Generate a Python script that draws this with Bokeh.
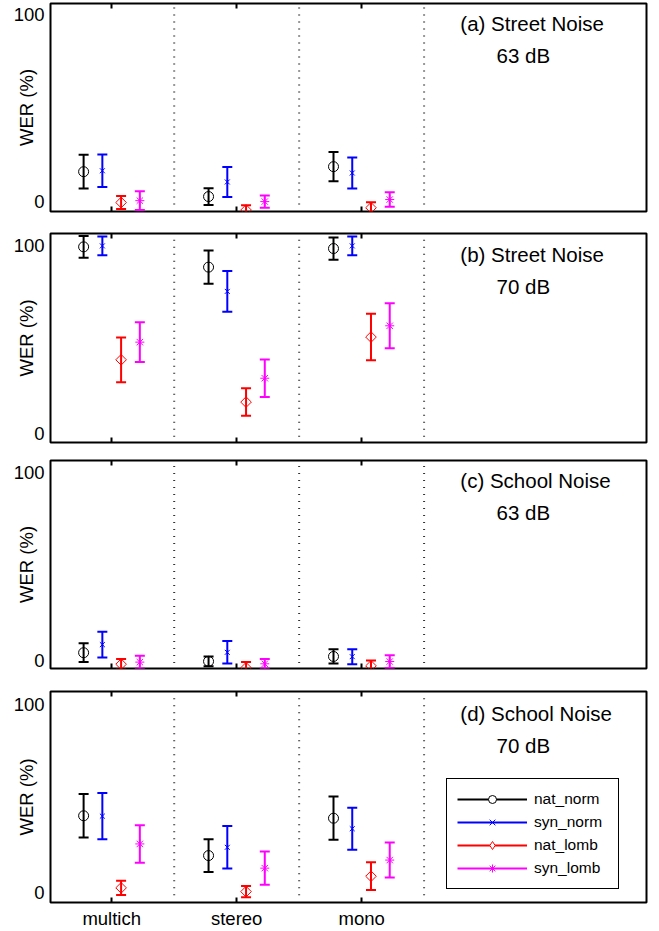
import numpy as np
from bokeh.plotting import figure
from bokeh.models import (Range1d, FixedTicker, LinearAxis, ColumnDataSource,
                          Whisker, TeeHead, Legend, LegendItem)
from bokeh.layouts import column
from bokeh.core.properties import value
from bokeh.embed import file_html
from bokeh.resources import INLINE

# ---------------- data ----------------
categories = ["multich", "stereo", "mono"]
series_names = ["nat_norm", "syn_norm", "nat_lomb", "syn_lomb"]
panel_titles = ["(a) Street Noise", "(b) Street Noise", "(c) School Noise", "(d) School Noise"]
panel_levels = ["63 dB", "70 dB", "63 dB", "70 dB"]
y_ticks = [0, 100]

# (a) Street noise 63 dB : mean WER and error half-width
a_nat_norm = [16.0, 2.7, 18.7]
a_nat_norm_err = [9.0, 4.5, 7.8]
a_syn_norm = [16.5, 10.5, 15.3]
a_syn_norm_err = [8.7, 8.0, 8.3]
a_nat_lomb = [-0.5, -4.5, -3.3]
a_nat_lomb_err = [3.5, 2.5, 3.0]
a_syn_lomb = [0.5, 0.0, 1.1]
a_syn_lomb_err = [5.0, 3.3, 3.9]

# (b) Street noise 70 dB
b_nat_norm = [99.5, 88.7, 98.6]
b_nat_norm_err = [5.8, 8.9, 5.9]
b_syn_norm = [100.0, 75.8, 100.0]
b_syn_norm_err = [5.0, 10.8, 5.0]
b_nat_lomb = [39.4, 16.9, 51.5]
b_nat_lomb_err = [11.9, 7.3, 12.4]
b_syn_lomb = [48.8, 29.6, 57.5]
b_syn_lomb_err = [10.6, 10.0, 12.0]

# (c) School noise 63 dB
c_nat_norm = [4.0, -0.6, 2.0]
c_nat_norm_err = [5.0, 2.6, 3.8]
c_syn_norm = [8.3, 4.2, 1.9]
c_syn_norm_err = [6.8, 6.0, 4.0]
c_nat_lomb = [-2.1, -4.0, -3.0]
c_nat_lomb_err = [2.8, 3.0, 2.8]
c_syn_lomb = [-1.0, -1.9, -0.7]
c_syn_lomb_err = [3.4, 2.5, 3.4]

# (d) School noise 70 dB
d_nat_norm = [40.8, 19.6, 39.5]
d_nat_norm_err = [11.6, 8.7, 11.5]
d_syn_norm = [40.6, 24.0, 33.9]
d_syn_norm_err = [12.3, 11.3, 11.2]
d_nat_lomb = [2.4, 0.4, 8.6]
d_nat_lomb_err = [3.8, 3.0, 7.4]
d_syn_lomb = [25.8, 12.9, 17.2]
d_syn_lomb_err = [10.0, 8.9, 9.3]

# ---------------- styling ----------------
FONT = "Liberation Sans"
colors = ["#000000", "#0000FF", "#FF0000", "#FF00FF"]
markers = ["circle", "x", "square", "asterisk"]
marker_sizes = [10, 7, 7.5, 9]
marker_angles = [0, 0, np.pi / 4, 0]
legend_markers = ["circle", "x", "diamond", "asterisk"]
legend_sizes = [10, 7, 13, 9]
offsets = [-0.225, -0.075, 0.075, 0.225]
separators = [1.5, 2.5, 3.5]
sep_lo, sep_hi = -1.5, 104
title_x, level_x = 3.79, 4.08
title_y, level_y = 95.3, 78.3

panels = [
    (a_nat_norm, a_nat_norm_err, a_syn_norm, a_syn_norm_err, a_nat_lomb, a_nat_lomb_err, a_syn_lomb, a_syn_lomb_err),
    (b_nat_norm, b_nat_norm_err, b_syn_norm, b_syn_norm_err, b_nat_lomb, b_nat_lomb_err, b_syn_lomb, b_syn_lomb_err),
    (c_nat_norm, c_nat_norm_err, c_syn_norm, c_syn_norm_err, c_nat_lomb, c_nat_lomb_err, c_syn_lomb, c_syn_lomb_err),
    (d_nat_norm, d_nat_norm_err, d_syn_norm, d_syn_norm_err, d_nat_lomb, d_nat_lomb_err, d_syn_lomb, d_syn_lomb_err),
]
# height, border top, border bottom, y range
geoms = [
    (222, 3, 11, -5.3, 106.0),
    (229, 11, 9, -4.6, 106.6),
    (228, 9, 11, -4.4, 106.2),
    (252, 12, 26, -5.4, 107.0),
]

xpos = np.arange(1, len(categories) + 1)
figs = []
for i, data in enumerate(panels):
    H, bt, bb, ylo, yhi = geoms[i]
    last = (i == len(panels) - 1)
    p = figure(width=651, height=H, x_range=Range1d(0.51, 5.28), y_range=Range1d(ylo, yhi),
               output_backend="svg", toolbar_location=None,
               min_border_left=50, min_border_right=5, min_border_top=bt, min_border_bottom=bb)
    p.grid.visible = False
    p.outline_line_color = "black"
    p.outline_line_width = 2
    p.outline_line_alpha = 1
    p.background_fill_color = "white"
    p.border_fill_color = "white"

    # x axis (bottom)
    xa = p.xaxis[0]
    xa.ticker = FixedTicker(ticks=list(xpos))
    xa.major_label_overrides = {int(k): c for k, c in zip(xpos, categories)}
    xa.axis_line_color = None
    xa.major_tick_in = 5
    xa.major_tick_out = 0
    xa.major_tick_line_width = 2
    xa.major_tick_line_color = "black"
    xa.minor_tick_line_color = None
    xa.major_label_text_font = FONT
    xa.major_label_text_font_size = "18.5px"
    if last:
        xa.major_label_text_color = "black"
        xa.major_label_standoff = 5
    else:
        xa.major_label_text_color = None
        xa.major_label_standoff = 0

    # top ticks
    top_ax = LinearAxis(ticker=FixedTicker(ticks=list(xpos)), axis_line_color=None,
                        major_tick_in=5, major_tick_out=0, major_tick_line_width=2,
                        major_tick_line_color="black", minor_tick_line_color=None,
                        major_label_text_color=None, major_label_standoff=0)
    p.add_layout(top_ax, "above")

    # y axis
    ya = p.yaxis[0]
    ya.ticker = FixedTicker(ticks=y_ticks)
    ya.axis_line_color = None
    ya.major_tick_in = 0
    ya.major_tick_out = 0
    ya.minor_tick_line_color = None
    ya.major_label_text_font = FONT
    ya.major_label_text_font_size = "18.5px"
    ya.major_label_text_color = "black"
    ya.major_label_standoff = 6
    ya.axis_label = "WER (%)"
    ya.axis_label_text_font = FONT
    ya.axis_label_text_font_size = "18.5px"
    ya.axis_label_text_font_style = "normal"
    ya.axis_label_text_color = "black"
    ya.axis_label_standoff = -26

    # dotted separators
    p.segment(x0=separators, y0=[sep_lo] * len(separators), x1=separators,
              y1=[sep_hi] * len(separators), line_color="#333333", line_width=2,
              line_dash="1 6")

    legend_items = []
    for k, name in enumerate(series_names):
        mean = np.array(data[2 * k], dtype=float)
        err = np.array(data[2 * k + 1], dtype=float)
        x = xpos + offsets[k]
        src = ColumnDataSource(dict(x=x, y=mean, upper=mean + err, lower=mean - err))
        w = Whisker(source=src, base="x", upper="upper", lower="lower", dimension="height",
                    line_color=colors[k], line_width=2,
                    upper_head=TeeHead(size=10, line_color=colors[k], line_width=2),
                    lower_head=TeeHead(size=10, line_color=colors[k], line_width=2))
        p.add_layout(w)
        p.scatter(x="x", y="y", source=src, marker=markers[k], size=marker_sizes[k],
                  angle=marker_angles[k], line_color=colors[k], fill_color=None,
                  line_width=1)
        if last:
            lr = p.line(x=[np.nan], y=[np.nan], line_color=colors[k], line_width=2)
            mr = p.scatter(x=[np.nan], y=[np.nan], marker=legend_markers[k],
                           size=legend_sizes[k], line_color=colors[k], fill_color="white",
                           line_width=1)
            legend_items.append(LegendItem(label=name, renderers=[lr, mr]))

    p.text(x=[title_x], y=[title_y], text=[panel_titles[i]], text_font=value(FONT),
           text_font_size="20.5px", text_align="left", text_baseline="alphabetic",
           text_color="black")
    p.text(x=[level_x], y=[level_y], text=[panel_levels[i]], text_font=value(FONT),
           text_font_size="20.5px", text_align="left", text_baseline="alphabetic",
           text_color="black")

    if last:
        leg = Legend(items=legend_items, location=(396, 13), padding=10, spacing=3,
                     glyph_width=70, glyph_height=20, label_height=20, label_width=74,
                     label_standoff=7, label_text_font=FONT, label_text_font_size="15.5px",
                     label_text_color="black", border_line_color="black",
                     border_line_width=1.5, border_line_alpha=1,
                     background_fill_color="white", background_fill_alpha=1, margin=0)
        p.add_layout(leg)
    figs.append(p)

layout = column(*figs, spacing=0)
open("out.html", "w").write(file_html(layout, INLINE))
